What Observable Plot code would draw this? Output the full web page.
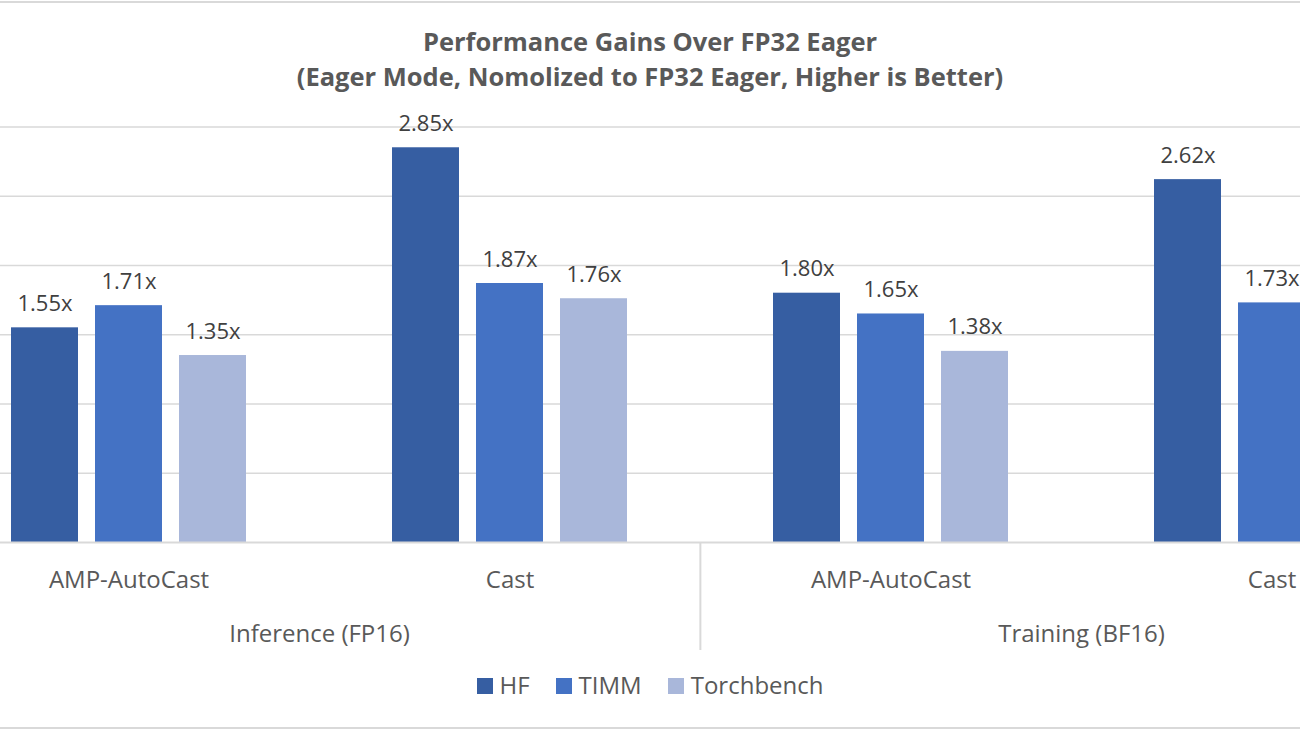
<!DOCTYPE html>
<html>
<head>
<meta charset="utf-8">
<script src="https://cdn.jsdelivr.net/npm/d3@7"></script>
<script src="https://cdn.jsdelivr.net/npm/@observablehq/plot@0.6"></script>
<style>
  html, body { margin: 0; padding: 0; background: #fff; }
  body { width: 1300px; height: 731px; position: relative; overflow: hidden; font-family: "Open Sans", sans-serif; }
  #frame { position: absolute; left: -10px; right: -10px; top: 1px; height: 724px; border-top: 2px solid #d9d9d9; border-bottom: 2px solid #d9d9d9; }
  #chart { position: absolute; left: 0; top: 0; }
  #chart svg { overflow: hidden; }
  #title { position: absolute; left: 0; width: 1300px; top: 24px; text-align: center; color: #595959; font-weight: 700; font-size: 25.5px; line-height: 35px; }
  #legend { position: absolute; left: 0; width: 1300px; top: 668px; display: flex; justify-content: center; align-items: center; color: #595959; font-size: 24px; }
  #legend .item { display: flex; align-items: center; margin: 0 13px; }
  #legend .sw { width: 16px; height: 16px; margin-right: 7px; margin-top: 3px; }
</style>
</head>
<body>
<div id="frame"></div>
<div id="chart"></div>
<div id="title"><div>Performance Gains Over FP32 Eager</div><div>(Eager Mode, Nomolized to FP32 Eager, Higher is Better)</div></div>
<div id="legend"></div>
<script>
// ---- data ----
const modes = ["Inference (FP16)", "Inference (FP16)", "Training (BF16)", "Training (BF16)"];
const methods = ["AMP-AutoCast", "Cast", "AMP-AutoCast", "Cast"];
const series = ["HF", "TIMM", "Torchbench"];
const hfValues = [1.55, 2.85, 1.80, 2.62];
const timmValues = [1.71, 1.87, 1.65, 1.73];
const torchbenchValues = [1.35, 1.76, 1.38, null]; // last bar lies outside the cropped picture
const yTicks = [0.5, 1.0, 1.5, 2.0, 2.5, 3.0];
const colors = ["#365ea2", "#4472c4", "#a9b7da"];

// ---- table ----
const keys = modes.map((m, i) => m + "|" + methods[i]);
const valuesBySeries = [hfValues, timmValues, torchbenchValues];
const data = [];
keys.forEach((k, i) => series.forEach((s, j) => {
  const v = valuesBySeries[j][i];
  if (v != null) data.push({key: k, series: s, value: v});
}));
const groupLabels = keys.map((k, i) => ({key: k, method: methods[i]}));
// top-level label sits on the boundary between its two sub-groups
const modeLabels = keys.filter((k, i) => i % 2 === 1).map((k, i) => ({key: k, mode: modes[i * 2 + 1]}));

const W = 1300, H = 731;
const fxRange = [-62.5, 1462.5];
const groupStep = (fxRange[1] - fxRange[0]) / keys.length;

const chart = Plot.plot({
  width: W,
  height: H,
  marginTop: 126.5,
  marginBottom: 189,
  marginLeft: 0,
  marginRight: 0,
  style: {fontFamily: "Open Sans, sans-serif", background: "transparent"},
  fx: {domain: keys, range: fxRange, padding: 0, axis: null},
  x: {domain: series, paddingInner: 0.207, paddingOuter: 0.858, align: 0.5, axis: null},
  y: {domain: [0, 3], range: [542, 126.5], axis: null},
  color: {domain: series, range: colors},
  marks: [
    Plot.ruleY(yTicks, {stroke: "#d9d9d9", strokeWidth: 1.5}),
    Plot.barY(data, {fx: "key", x: "series", y: "value", fill: "series"}),
    Plot.ruleY([0], {stroke: "#d9d9d9", strokeWidth: 2}),
    Plot.text(data, {fx: "key", x: "series", y: "value", text: d => d.value.toFixed(2) + "x",
      lineAnchor: "bottom", dy: -17, fill: "#404040", fontSize: 22}),
    Plot.text(groupLabels, {fx: "key", text: "method", frameAnchor: "bottom", lineAnchor: "bottom",
      dy: 45, fill: "#595959", fontSize: 24}),
    Plot.text(modeLabels, {fx: "key", text: "mode", frameAnchor: "bottom-left", textAnchor: "middle",
      lineAnchor: "bottom", dy: 99, fill: "#595959", fontSize: 24}),
    Plot.ruleX([keys[2]], {fx: d => d, x: null, dx: -groupStep / 2, insetTop: 415.5, insetBottom: -108,
      stroke: "#d9d9d9", strokeWidth: 2})
  ]
});
document.getElementById("chart").appendChild(chart);

// legend
const legend = document.getElementById("legend");
series.forEach((s, i) => {
  const item = document.createElement("div");
  item.className = "item";
  const sw = document.createElement("span");
  sw.className = "sw";
  sw.style.background = colors[i];
  const t = document.createElement("span");
  t.textContent = s;
  item.appendChild(sw); item.appendChild(t);
  legend.appendChild(item);
});
</script>
</body>
</html>
